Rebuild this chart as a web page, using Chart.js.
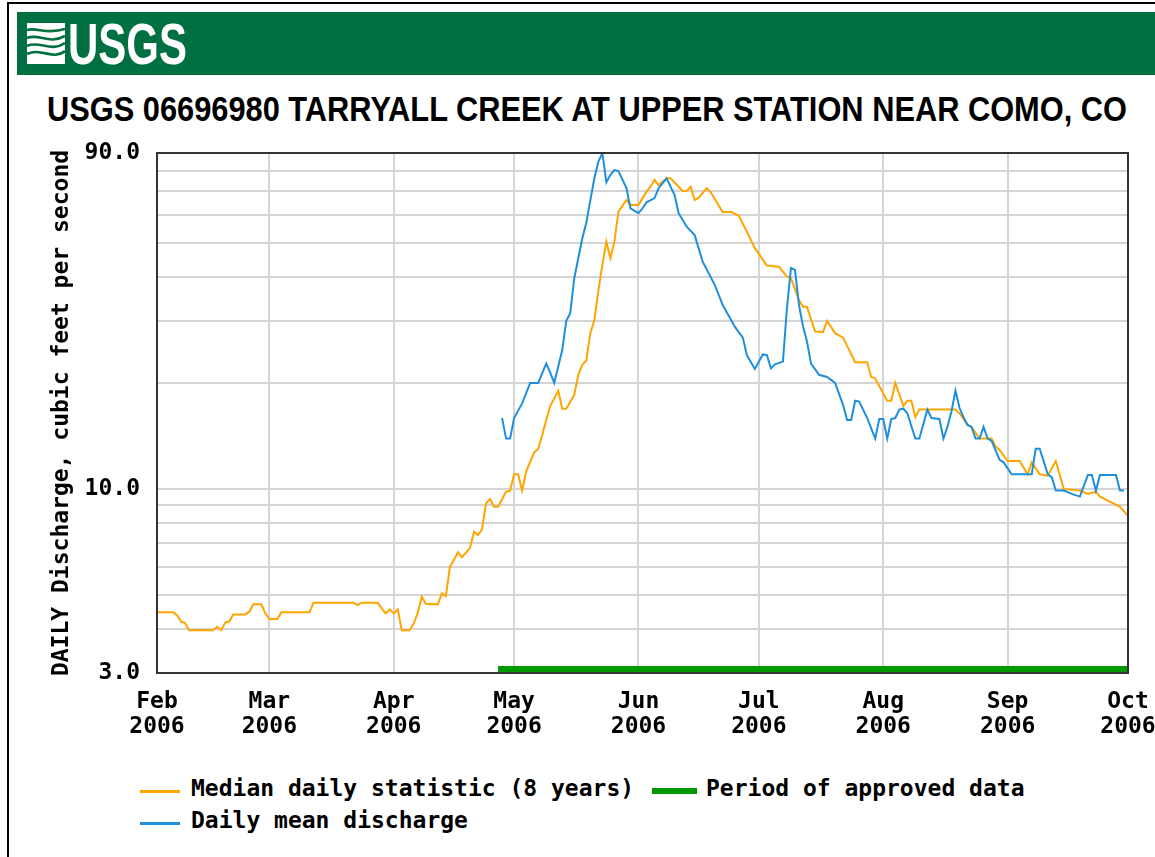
<!DOCTYPE html>
<html>
<head>
<meta charset="utf-8">
<title>USGS 06696980 Tarryall Creek</title>
<script src="https://cdn.jsdelivr.net/npm/chart.js@4.4.1/dist/chart.umd.min.js"></script>
<style>
  html, body { margin: 0; padding: 0; background: #fff; overflow: hidden; }
  body { width: 1155px; height: 857px; position: relative; }
  #frame { position: absolute; left: 7px; top: 2px; width: 1200px; height: 900px;
           border-left: 2px solid #000; border-top: 2px solid #000; }
  #banner { position: absolute; left: 17px; top: 12px; width: 1160px; height: 63px; background: #006f41; }
  #logoIcon { position: absolute; left: 27px; top: 23px; }
  #logoText { position: absolute; left: 68px; top: 15px; color: #fff; white-space: nowrap;
              font: bold 58px/58px "Liberation Sans Narrow", "Arial Narrow", "Liberation Sans", sans-serif;
              transform-origin: left top; }
  #title { position: absolute; left: 47px; top: 91px; color: #000; white-space: nowrap;
           font: bold 35px/35px "Liberation Sans Narrow", "Arial Narrow", "Liberation Sans", sans-serif;
           transform-origin: left top; }
  #chart { position: absolute; left: 0; top: 140px; }
  .leg { position: absolute; height: 32px; line-height: 32px; white-space: nowrap;
         font: bold 23px "DejaVu Sans Mono", monospace; color: #000; }
  .sw { position: absolute; }
</style>
</head>
<body>
<div id="frame"></div>
<div id="banner"></div>
<svg id="logoIcon" width="38" height="41" viewBox="0 0 38 41">
  <rect x="0" y="0" width="38" height="41" fill="#fff"/>
  <g fill="none" stroke="#006f41" stroke-width="2.6">
    <path d="M0 7 C10 4, 20 12, 38 6"/>
    <path d="M0 15 C12 10, 22 22, 38 13"/>
    <path d="M0 23 C12 17, 24 30, 38 20"/>
    <path d="M0 31 C14 24, 26 38, 38 28"/>
  </g>
</svg>
<div id="logoText">USGS</div>
<div id="title">USGS 06696980 TARRYALL CREEK AT UPPER STATION NEAR COMO, CO</div>
<canvas id="chart" width="1155" height="600"></canvas>

<div class="sw" style="left:140px;top:790px;width:40px;height:3px;background:#ffa500"></div>
<div class="leg" style="left:191px;top:775px">Median daily statistic (8 years)</div>
<div class="sw" style="left:652px;top:788px;width:45px;height:6px;background:#009900"></div>
<div class="leg" style="left:706px;top:775px">Period of approved data</div>
<div class="sw" style="left:140px;top:822px;width:40px;height:3px;background:#1e8fdc"></div>
<div class="leg" style="left:191px;top:807px">Daily mean discharge</div>

<script>
// days counted from 1 Feb 2006
const monthDays = [0, 28, 59, 89, 120, 150, 181, 212, 242];
const monthNames = ['Feb', 'Mar', 'Apr', 'May', 'Jun', 'Jul', 'Aug', 'Sep', 'Oct'];
const yearName = '2006';

const yGridValues = [3, 4, 5, 6, 7, 8, 9, 10, 20, 30, 40, 50, 60, 70, 80, 90];
const yLabelValues = [3, 10, 90];

// median daily statistic (8 years)
const medianDays = [0, 4, 5, 6, 7, 8, 14, 15, 16, 17, 18, 19, 22, 23, 24, 26, 27, 28, 30, 31,
  38, 39, 49, 50, 51, 55, 56, 57, 58, 59, 60, 61, 63, 64, 65, 66, 67, 70, 71, 72,
  73, 74, 75, 76, 78, 79, 80, 81, 82, 83, 84, 85, 87, 88, 89, 90, 91, 92, 94, 95,
  96, 97, 98, 100, 101, 102, 104, 105, 106, 107, 108, 109, 110, 111, 112, 113, 114, 115, 117, 118,
  120, 122, 123, 124, 125, 127, 128, 130, 131, 132, 133, 134, 135, 137, 138, 141, 143, 145, 147, 149,
  152, 155, 157, 158, 160, 161, 162, 164, 166, 167, 169, 171, 174, 177, 178, 179, 182, 183, 184, 186,
  187, 188, 189, 190, 199, 200, 202, 203, 205, 208, 209, 210, 212, 215, 217, 218, 220, 222, 224, 226,
  230, 232, 234, 235, 238, 240, 242];
const medianCfs = [4.46, 4.46, 4.38, 4.20, 4.16, 3.97, 3.97, 4.06, 3.97, 4.17, 4.20, 4.40, 4.40, 4.48, 4.70, 4.70, 4.43, 4.27, 4.27, 4.46,
  4.46, 4.75, 4.75, 4.68, 4.75, 4.75, 4.58, 4.43, 4.55, 4.43, 4.55, 3.97, 3.97, 4.15, 4.45, 4.94, 4.72, 4.70, 5.05, 4.96,
  6.01, 6.28, 6.61, 6.40, 6.79, 7.56, 7.40, 7.68, 9.10, 9.36, 8.90, 8.90, 9.82, 9.89, 11.0, 11.0, 9.89, 11.2, 12.7, 13.0,
  14.2, 15.7, 17.2, 19.0, 16.9, 16.9, 18.5, 21.1, 22.5, 23.2, 27.7, 30.2, 36.5, 43.3, 50.4, 45.2, 50.4, 61.3, 66.2, 64.1,
  64.1, 69.9, 72.2, 75.5, 73.0, 76.3, 76.3, 72.2, 70.2, 70.2, 72.2, 66.2, 67.2, 71.5, 69.6, 61.1, 61.3, 59.7, 53.8, 48.3,
  43.1, 42.8, 40.1, 39.7, 34.4, 32.9, 32.9, 28.0, 27.9, 30.0, 27.7, 26.9, 22.9, 22.9, 20.8, 20.6, 17.8, 17.8, 20.0, 17.2,
  17.8, 17.8, 16.0, 16.8, 16.8, 16.4, 15.2, 15.0, 13.9, 13.9, 13.2, 12.9, 12.0, 12.0, 11.0, 11.9, 11.0, 10.9, 12.0, 10.0,
  9.9, 9.68, 9.82, 9.51, 9.14, 8.90, 8.38];

// daily mean discharge
const meanDays = [86, 87, 88, 89, 91, 93, 95, 97, 98, 99, 101, 102, 103, 104, 106, 107, 108, 109, 110, 111,
  112, 113, 114, 115, 117, 118, 120, 121, 122, 124, 125, 127, 129, 130, 132, 134, 136, 139, 141, 144,
  146, 147, 149, 151, 152, 153, 154, 156, 157, 158, 159, 160, 161, 162, 163, 165, 167, 169, 171, 172,
  173, 174, 175, 177, 179, 180, 181, 182, 183, 184, 185, 186, 187, 189, 190, 192, 193, 195, 196, 197,
  198, 199, 200, 201, 202, 203, 204, 205, 206, 207, 208, 210, 211, 213, 218, 219, 220, 222, 223, 224,
  226, 228, 230, 232, 233, 234, 235, 239, 240, 241];
const meanCfs = [15.9, 13.9, 13.9, 15.9, 17.5, 20.0, 20.0, 22.7, 21.4, 20.0, 24.8, 30.0, 31.6, 39.7, 51.5, 57.0, 66.0, 76.3, 85.1, 89.9,
  74.3, 78.0, 80.5, 80.0, 71.5, 62.7, 60.7, 62.7, 65.2, 67.0, 71.5, 76.3, 68.4, 60.7, 55.6, 52.6, 44.2, 38.0, 33.3, 28.9,
  26.9, 24.0, 21.9, 24.1, 24.0, 22.0, 22.6, 23.0, 32.6, 42.4, 41.9, 33.3, 29.0, 26.2, 22.7, 21.1, 20.8, 20.0, 17.3, 15.7,
  15.7, 17.8, 17.7, 15.9, 13.9, 15.8, 15.8, 13.9, 15.8, 15.9, 16.8, 16.9, 16.4, 13.9, 13.9, 16.8, 15.9, 15.8, 13.9, 15.0,
  16.6, 19.0, 17.0, 16.0, 15.2, 15.0, 13.9, 13.9, 15.0, 13.9, 13.7, 12.1, 11.9, 11.0, 11.0, 13.0, 13.0, 11.0, 10.8, 9.89,
  9.89, 9.68, 9.51, 10.95, 10.95, 9.89, 10.95, 10.95, 9.89, 9.89];

// period of approved data (start day, end day)
const approvedDays = [85, 242];

function fitWidth(el, target) {
  const w = el.getBoundingClientRect().width;
  el.style.transform = 'scaleX(' + (target / w) + ')';
}
fitWidth(document.getElementById('title'), 1080);
fitWidth(document.getElementById('logoText'), 119);

const monoFont = { family: 'DejaVu Sans Mono', weight: 'bold', size: 23 };
const gridColor = '#d4d4d4';

const framePlugin = {
  id: 'frame',
  afterDatasetsDraw(chart) {
    const { ctx, chartArea: a, scales: { x } } = chart;
    ctx.save();
    ctx.fillStyle = '#009900';
    const x0 = x.getPixelForValue(approvedDays[0]);
    const x1 = x.getPixelForValue(approvedDays[1]);
    ctx.fillRect(x0, a.bottom - 7, x1 - x0, 6);
    ctx.strokeStyle = '#333';
    ctx.lineWidth = 2;
    ctx.strokeRect(a.left, a.top, a.right - a.left, a.bottom - a.top);
    ctx.restore();
  }
};

new Chart(document.getElementById('chart'), {
  type: 'line',
  data: {
    datasets: [{
      label: 'Daily mean discharge',
      data: meanDays.map((d, i) => ({ x: d, y: meanCfs[i] })),
      borderColor: '#1e8fdc',
      borderWidth: 2,
      pointRadius: 0,
      tension: 0
    }, {
      label: 'Median daily statistic (8 years)',
      data: medianDays.map((d, i) => ({ x: d, y: medianCfs[i] })),
      borderColor: '#ffa500',
      borderWidth: 2,
      pointRadius: 0,
      tension: 0
    }]
  },
  options: {
    responsive: false,
    animation: false,
    devicePixelRatio: 1,
    layout: { padding: { left: 0, right: 27, top: 13, bottom: 0 } },
    plugins: { legend: { display: false }, tooltip: { enabled: false } },
    scales: {
      x: {
        type: 'linear', min: 0, max: 242,
        afterBuildTicks: s => { s.ticks = monthDays.map(v => ({ value: v })); },
        afterFit: s => { s.height = 67; s.paddingLeft = 0; s.paddingRight = 0; },
        ticks: {
          autoSkip: false, maxRotation: 0, minRotation: 0, padding: 16, color: '#000',
          font: Object.assign({ lineHeight: 1.09 }, monoFont),
          callback: (v, i) => [monthNames[i], yearName]
        },
        grid: { color: gridColor, lineWidth: 2, drawTicks: false },
        border: { display: false }
      },
      y: {
        type: 'logarithmic', min: 3, max: 90,
        afterBuildTicks: s => { s.ticks = yGridValues.map(v => ({ value: v })); },
        afterFit: s => { s.width = 157; s.paddingTop = 0; s.paddingBottom = 0; },
        ticks: {
          autoSkip: false, padding: 17, color: '#000', font: monoFont,
          callback: v => yLabelValues.includes(v) ? v.toFixed(1) : ''
        },
        grid: { color: gridColor, lineWidth: 2, drawTicks: false },
        border: { display: false },
        title: {
          display: true, text: 'DAILY Discharge, cubic feet per second', color: '#000',
          font: monoFont, padding: { top: 48, bottom: 0 }
        }
      }
    }
  },
  plugins: [framePlugin]
});
</script>
</body>
</html>
